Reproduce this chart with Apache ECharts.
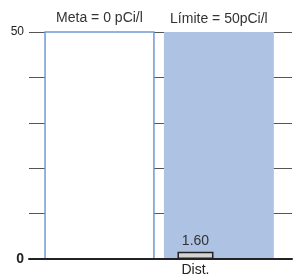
<!DOCTYPE html>
<html>
<head>
<meta charset="utf-8">
<script src="https://cdn.jsdelivr.net/npm/echarts@6/dist/echarts.min.js"></script>
<style>
  html, body { margin: 0; padding: 0; background: #fff; }
  #chart { width: 293px; height: 277px; }
</style>
</head>
<body>
<div id="chart"></div>
<script>
// datos
var categories = ['Dist.'];
var values = [1.60];
var zoneNames = ['Meta = 0 pCi/l', 'Límite = 50pCi/l'];
var yTicks = [0, 10, 20, 30, 40, 50];

// posicion de la barra en el eje x (0..100)
var barPos = 63.3;

var chart = echarts.init(document.getElementById('chart'));

var option = {
  animation: false,
  textStyle: { fontFamily: 'Liberation Sans, Arial, sans-serif' },
  grid: { left: 29, right: 1, top: 32, bottom: 17 },
  xAxis: {
    type: 'value',
    min: 0,
    max: 100,
    z: 10,
    splitLine: { show: false },
    axisTick: { show: false },
    axisLine: { show: true, lineStyle: { color: '#222', width: 2 } },
    axisLabel: {
      customValues: [barPos],
      margin: 4,
      fontSize: 14,
      color: '#222',
      formatter: function () { return categories[0]; }
    }
  },
  yAxis: {
    type: 'value',
    min: yTicks[0],
    max: yTicks[yTicks.length - 1],
    interval: 10,
    axisLine: { show: false },
    axisTick: { show: false },
    splitLine: { show: true, lineStyle: { color: '#555', width: 1 } },
    axisLabel: {
      margin: 5,
      fontSize: 12,
      color: '#222',
      formatter: function (v) {
        if (v === 0) return '{b|0}';
        if (v === 50) return '50';
        return '';
      },
      rich: { b: { fontSize: 14, fontWeight: 'bold', color: '#222' } }
    }
  },
  series: [
    {
      type: 'bar',
      data: [[barPos, values[0]]],
      barWidth: 36,
      itemStyle: { color: '#d4d4d4', borderColor: '#222', borderWidth: 1.5 },
      label: {
        show: true,
        position: 'top',
        distance: 4,
        fontSize: 14,
        color: '#333',
        formatter: function (p) { return p.value[1].toFixed(2); }
      },
      markArea: {
        silent: true,
        data: [
          [
            {
              name: zoneNames[0],
              xAxis: 6.1,
              yAxis: 50,
              itemStyle: { color: '#fff', opacity: 1, borderColor: '#6e9bd2', borderWidth: 1.5 },
              label: { show: true, position: 'top', distance: 6, fontSize: 14, color: '#333' }
            },
            { xAxis: 47.5, yAxis: 0 }
          ],
          [
            {
              name: zoneNames[1],
              xAxis: 51.3,
              yAxis: 50,
              itemStyle: { color: '#aec3e4', opacity: 1, borderWidth: 0 },
              label: { show: true, position: 'top', distance: 6, fontSize: 14, color: '#333' }
            },
            { xAxis: 93.1, yAxis: 0 }
          ]
        ]
      }
    }
  ]
};

chart.setOption(option);
</script>
</body>
</html>
